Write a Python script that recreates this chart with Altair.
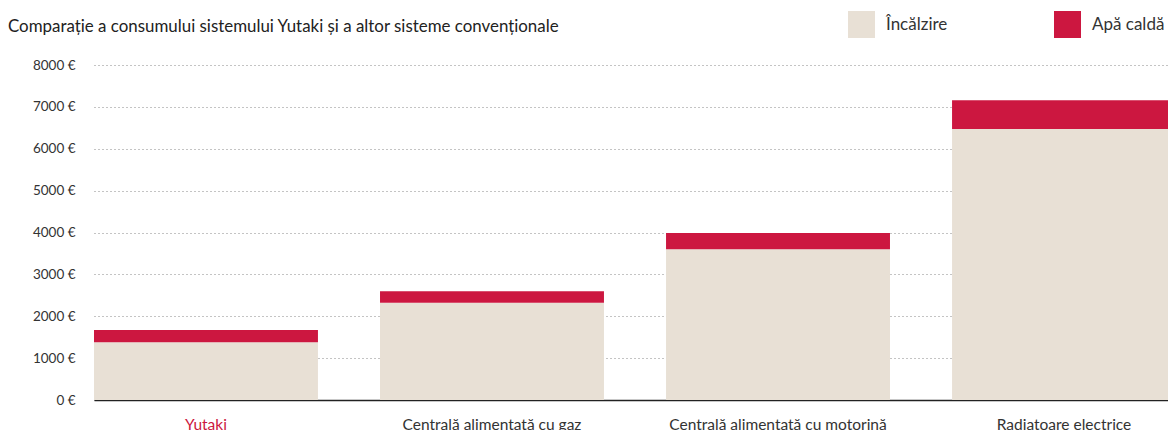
import altair as alt
import pandas as pd

categories = ["Yutaki", "Centrală alimentată cu gaz", "Centrală alimentată cu motorină", "Radiatoare electrice"]
heating = [1380, 2320, 3600, 6470]
hot_water = [290, 280, 390, 690]
series = ["Încălzire", "Apă caldă"]
colors = ["#e8e0d5", "#cc1740"]
y_ticks = [0, 1000, 2000, 3000, 4000, 5000, 6000, 7000, 8000]

rows = []
for c, h, w in zip(categories, heating, hot_water):
    rows.append({"cat": c, "type": series[0], "val": h, "ord": 0})
    rows.append({"cat": c, "type": series[1], "val": w, "ord": 1})
df = pd.DataFrame(rows)

FONT = "Lato"

chart = alt.Chart(df).mark_bar().encode(
    x=alt.X("cat:N", sort=categories, title=None,
            scale=alt.Scale(paddingInner=0.217, paddingOuter=0),
            axis=alt.Axis(labelAngle=0, ticks=False, domainColor="#222222", domainWidth=1.5,
                          labelFontSize=15.5, labelPadding=17, labelFont=FONT, labelLimit=400,
                          labelColor=alt.ExprRef(expr="datum.value == 'Yutaki' ? '#cc1740' : '#333333'"),
                          grid=False)),
    y=alt.Y("val:Q", stack="zero", title=None,
            scale=alt.Scale(domain=[0, 8000], nice=False),
            axis=alt.Axis(values=y_ticks, labelExpr="datum.value + ' €'", ticks=False, domain=False,
                          labelFontSize=13.5, labelPadding=19, labelFont=FONT, labelColor="#333333",
                          gridDash=[1, 3], gridColor="#888888", gridWidth=1)),
    color=alt.Color("type:N", scale=alt.Scale(domain=series, range=colors),
                    legend=alt.Legend(title=None, orient="none", legendX=754, legendY=-54,
                                      direction="horizontal", symbolType="square", symbolSize=729,
                                      symbolStrokeWidth=0, symbolOpacity=1, labelFontSize=17, labelFont=FONT,
                                      labelColor="#333333", labelOffset=11, columnPadding=106, padding=0)),
    order=alt.Order("ord:Q"),
).properties(
    width=1082, height=335,
    title=alt.TitleParams("Comparație a consumului sistemului Yutaki și a altor sisteme convenționale",
                          anchor="start", frame="group", dx=-86, fontSize=16.9, font=FONT,
                          fontWeight="normal", color="#222222", offset=-38, baseline="alphabetic"),
    autosize=alt.AutoSizeParams(type="none"),
    padding={"left": 86, "top": 57, "right": -8, "bottom": 30},
).configure_view(stroke=None)

chart.save("out.html", embed_options={"renderer": "svg", "actions": False})
